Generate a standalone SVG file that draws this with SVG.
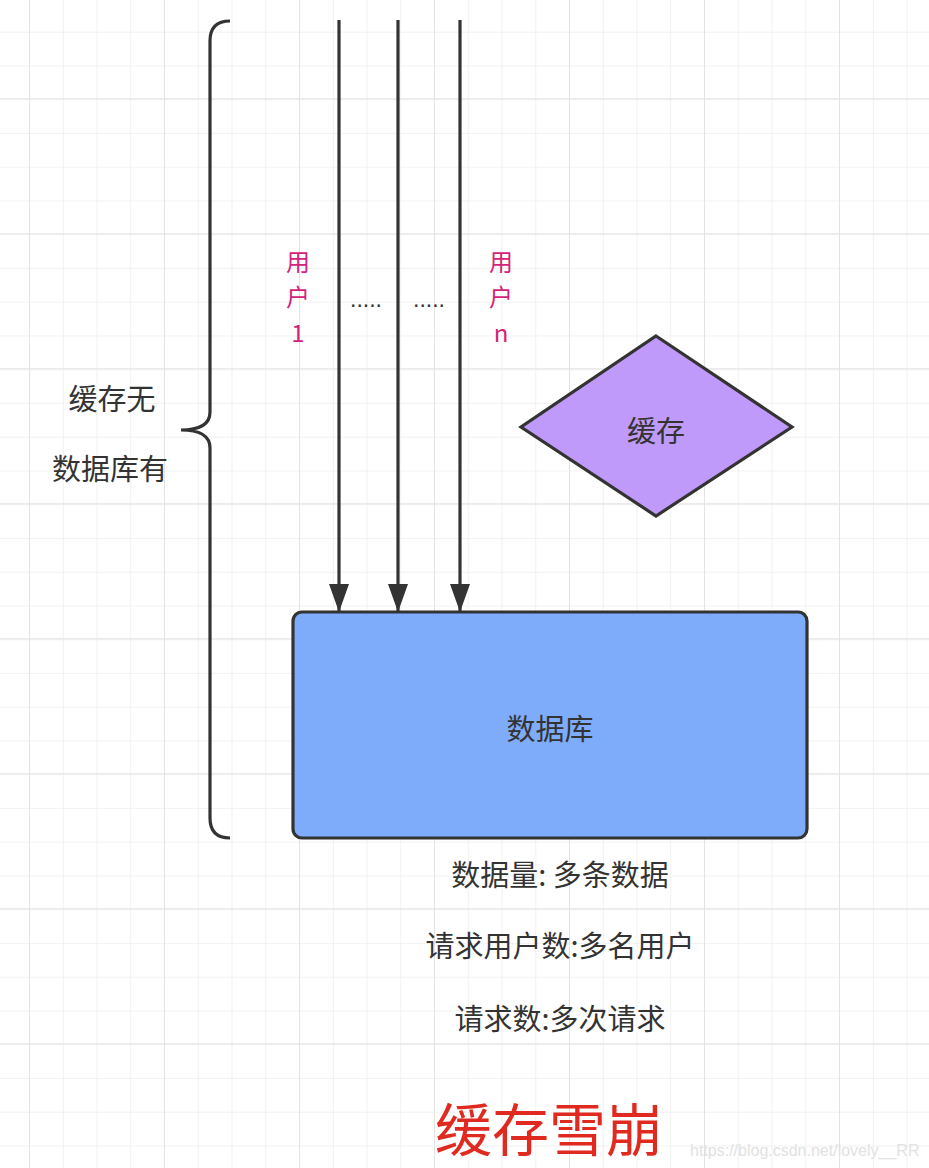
<svg xmlns="http://www.w3.org/2000/svg" width="929" height="1168" viewBox="0 0 929 1168">
<defs>
<pattern id="minor" x="-3.75" y="-1.05" width="33.75" height="33.75" patternUnits="userSpaceOnUse">
<path d="M33.75 0V33.75M0 33.75H33.75" fill="none" stroke="#eeeeee" stroke-width="1.6"/>
</pattern>
<pattern id="major" x="-105" y="-35.7" width="135" height="135" patternUnits="userSpaceOnUse">
<path d="M135 0V135M0 135H135" fill="none" stroke="#e2e2e2" stroke-width="1.8"/>
</pattern>
<marker id="ah" viewBox="0 0 28 20" refX="28" refY="10" markerWidth="28" markerHeight="20" markerUnits="userSpaceOnUse" orient="auto">
<path d="M0 0L28 10L0 20Z" fill="#333"/>
</marker>
</defs>
<style>
.t{font-family:"Noto Sans CJK SC","Noto Sans",sans-serif;fill:#333;font-size:29px;text-anchor:middle;dominant-baseline:central}
.pk{font-family:"Noto Sans CJK SC","Noto Sans",sans-serif;fill:#d4237a;font-size:24px;text-anchor:middle;dominant-baseline:central}
.dots{font-family:"Liberation Sans",sans-serif;fill:#333;font-size:23px;text-anchor:middle}
.ln{stroke:#333;stroke-width:3.2;fill:none}
</style>
<rect width="929" height="1168" fill="#fff"/>
<rect width="929" height="1168" fill="url(#minor)"/>
<rect width="929" height="1168" fill="url(#major)"/>

<g id="brace">
<path class="ln" d="M230 21Q210 21 210 41V412Q210 430 181 430Q210 430 210 448V818Q210 838 230 838"/>
<text class="t" x="112" y="397">缓存无</text>
<text class="t" x="110" y="467">数据库有</text>
</g>

<g id="connectors">
<line class="ln" x1="339" y1="20" x2="339" y2="612" marker-end="url(#ah)"/>
<line class="ln" x1="398" y1="20" x2="398" y2="612" marker-end="url(#ah)"/>
<line class="ln" x1="460" y1="20" x2="460" y2="612" marker-end="url(#ah)"/>
</g>

<g id="labels">
<text class="pk" x="298" y="260">用</text>
<text class="pk" x="298" y="295">户</text>
<text class="pk" x="298" y="331">1</text>
<text class="pk" x="501" y="260">用</text>
<text class="pk" x="501" y="295">户</text>
<text class="pk" x="501" y="331">n</text>
<text class="dots" x="366" y="307">.....</text>
<text class="dots" x="429" y="307">.....</text>
</g>

<g id="cache">
<polygon points="656,336 792,427 656,516 521,427" fill="#c09afa" stroke="#333" stroke-width="3.2"/>
<text class="t" x="656" y="429">缓存</text>
</g>

<g id="database">
<rect x="293" y="612" width="514" height="226" rx="9" fill="#7eacfb" stroke="#333" stroke-width="3.2"/>
<text class="t" x="550" y="727">数据库</text>
</g>

<g id="notes">
<text class="t" x="560" y="873">数据量: 多条数据</text>
<text class="t" x="560" y="944">请求用户数:多名用户</text>
<text class="t" x="560" y="1017">请求数:多次请求</text>
</g>

<g id="title">
<text x="549" y="1126" font-family="Noto Sans CJK SC,sans-serif" font-size="57" fill="#e02a20" text-anchor="middle" dominant-baseline="central">缓存雪崩</text>
</g>
<text x="690" y="1156" font-family="Liberation Sans,sans-serif" font-size="16" fill="#e2e2e2">https://blog.csdn.net/lovely__RR</text>
</svg>
